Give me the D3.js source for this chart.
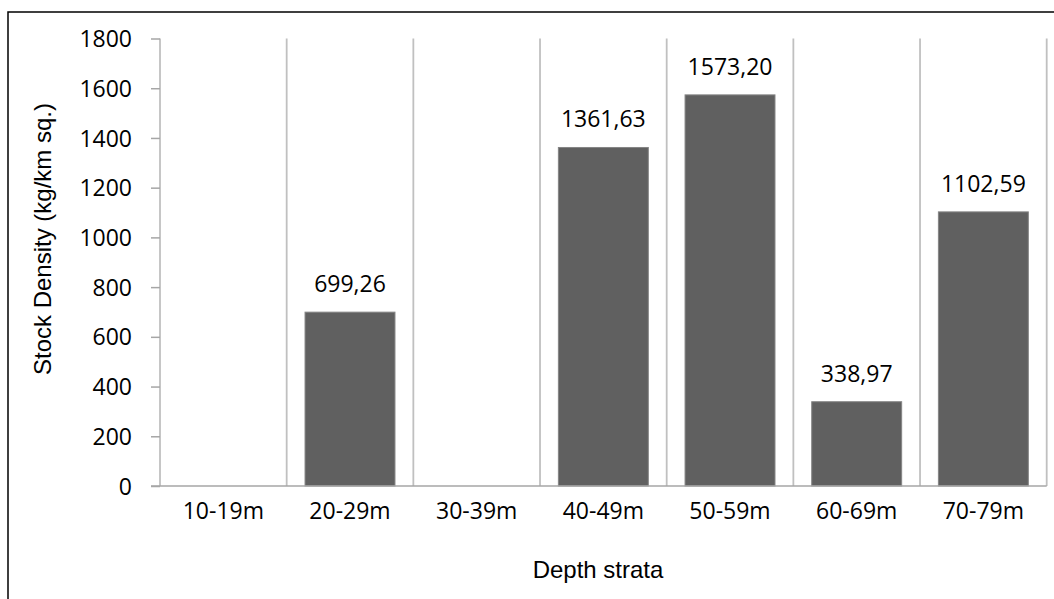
<!DOCTYPE html>
<html>
<head>
<meta charset="utf-8">
<script src="https://cdn.jsdelivr.net/npm/d3@7"></script>
<style>
  html, body { margin: 0; padding: 0; background: #fff; }
  svg { display: block; }
</style>
</head>
<body>
<script>
const categories = ["10-19m", "20-29m", "30-39m", "40-49m", "50-59m", "60-69m", "70-79m"];
const values = [0, 699.26, 0, 1361.63, 1573.20, 338.97, 1102.59];
const yTicks = [0, 200, 400, 600, 800, 1000, 1200, 1400, 1600, 1800];
const xTitle = "Depth strata";
const yTitle = "Stock Density (kg/km sq.)";

(function () {
const W = 1054, H = 599;
const pLeft = 160, pRight = 1046.7, pTop = 38.5, pBottom = 486;

const svg = d3.select("body").append("svg").attr("width", W).attr("height", H);

// outer frame
svg.append("rect").attr("x", 8).attr("y", 12).attr("width", 1100).attr("height", 700)
  .attr("fill", "none").attr("stroke", "#000").attr("stroke-width", 1.5);

const x = d3.scaleBand().domain(categories).range([pLeft, pRight]).padding(0);
const y = d3.scaleLinear().domain([0, 1800]).range([pBottom, pTop]);

// vertical grid lines at category boundaries
const bounds = categories.map(c => x(c)).concat([x(categories[categories.length - 1]) + x.bandwidth()]);
svg.append("g").selectAll("line").data(bounds).join("line")
  .attr("x1", d => d).attr("x2", d => d)
  .attr("y1", y(1800)).attr("y2", y(0))
  .attr("stroke", "#c0c0c0").attr("stroke-width", 1.8);

// bars
const frac = 0.71;
const data = categories.map((c, i) => ({c, v: values[i]})).filter(d => d.v > 0);
svg.append("g").selectAll("rect").data(data)
  .join("rect")
  .attr("x", d => x(d.c) + x.bandwidth() * (1 - frac) / 2)
  .attr("width", x.bandwidth() * frac)
  .attr("y", d => y(d.v))
  .attr("height", d => y(0) - y(d.v))
  .attr("fill", "#606060")
  .attr("stroke", "#858585").attr("stroke-width", 1);

// value labels
const fmt = v => v.toFixed(2).replace(".", ",");
svg.append("g").selectAll("text").data(data)
  .join("text")
  .attr("x", d => x(d.c) + x.bandwidth() / 2)
  .attr("y", d => y(d.v) - 20)
  .attr("text-anchor", "middle")
  .attr("font-family", "'Open Sans', sans-serif")
  .attr("font-size", 23)
  .attr("fill", "#000")
  .text(d => fmt(d.v));

// y axis
const yAxis = d3.axisLeft(y).tickValues(yTicks).tickSize(9).tickPadding(19).tickFormat(d3.format("d"));
const gy = svg.append("g").attr("transform", `translate(${pLeft},0)`).call(yAxis);
gy.select(".domain").remove();
gy.selectAll(".tick line").attr("stroke", "#a6a6a6").attr("stroke-width", 1.5);
gy.selectAll(".tick text")
  .attr("font-family", "'Open Sans', sans-serif").attr("font-size", 23).attr("fill", "#000")
  .attr("dy", "0.35em");

// x axis
const xAxis = d3.axisBottom(x).tickSize(0).tickPadding(17);
const gx = svg.append("g").attr("transform", `translate(0,${pBottom})`).call(xAxis);
gx.select(".domain").remove();
gx.selectAll(".tick text")
  .attr("font-family", "'Open Sans', sans-serif").attr("font-size", 23).attr("fill", "#000");
svg.append("line").attr("x1", pLeft - 9).attr("x2", pRight).attr("y1", pBottom).attr("y2", pBottom)
  .attr("stroke", "#a6a6a6").attr("stroke-width", 1.5);

// axis titles
svg.append("text").attr("x", 598).attr("y", 578).attr("text-anchor", "middle")
  .attr("font-family", "'Liberation Sans', Arial, sans-serif").attr("font-size", 24).attr("fill", "#000")
  .text(xTitle);
svg.append("text").attr("transform", "translate(51,239) rotate(-90)").attr("text-anchor", "middle")
  .attr("font-family", "'Liberation Sans', Arial, sans-serif").attr("font-size", 24).attr("fill", "#000")
  .text(yTitle);
})();
</script>
</body>
</html>
